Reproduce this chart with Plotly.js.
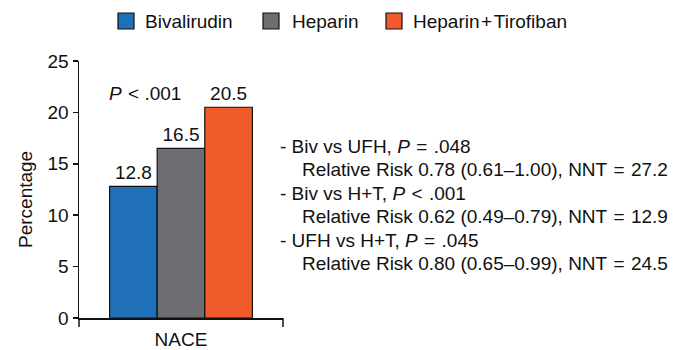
<!DOCTYPE html>
<html>
<head>
<meta charset="utf-8">
<script src="https://cdn.plot.ly/plotly-3.0.1.min.js"></script>
<style>
  html, body { margin: 0; padding: 0; background: #fff; }
  #chart { width: 685px; height: 350px; }
</style>
</head>
<body>
<div id="chart"></div>
<script>
// ---- data ----
const categories = ["NACE"];
const seriesNames = ["Bivalirudin", "Heparin", "Heparin\u200a+\u200aTirofiban"];
const bivalirudin = [12.8];
const heparin = [16.5];
const heparinTirofiban = [20.5];
const yTicks = [0, 5, 10, 15, 20, 25];
const yTitle = "Percentage";
const pValueText = "<i>P</i>\u2004< .001";
const statLines = [
  "- Biv vs UFH, <i>P</i>\u2004=\u2004.048",
  "Relative Risk 0.78 (0.61\u20131.00), NNT\u2004=\u200427.2",
  "- Biv vs H+T, <i>P</i>\u2004<\u2004.001",
  "Relative Risk 0.62 (0.49\u20130.79), NNT\u2004=\u200412.9",
  "- UFH vs H+T, <i>P</i>\u2004=\u2004.045",
  "Relative Risk 0.80 (0.65\u20130.99), NNT\u2004=\u200424.5"
];

// ---- styling ----
const colors = ["#1f70b9", "#6d6e71", "#f15a2b"];
const FONT = "Liberation Sans, Arial, Helvetica, sans-serif";
const TXT = "#111";
const W = 685, H = 350;
const L = 79, R = 283, T = 61, B = 318;
const px = x => (x - L) / (R - L);
const py = y => (B - y) / (B - T);

const values = [bivalirudin, heparin, heparinTirofiban];
const traces = values.map((v, i) => ({
  type: "bar",
  name: seriesNames[i],
  x: categories,
  y: v,
  marker: { color: colors[i], line: { color: "#111", width: 1.2 } },
  text: v.map(d => d.toFixed(1)),
  textposition: "outside",
  textfont: { family: FONT, size: 19, color: TXT },
  cliponaxis: false,
  showlegend: false,
  hoverinfo: "skip"
}));

// custom legend
const legendSq = [118, 263, 386];
const legendTxt = [143, 290, 411];
const shapes = [];
const annotations = [];
seriesNames.forEach((n, i) => {
  shapes.push({
    type: "rect", xref: "paper", yref: "paper",
    x0: px(legendSq[i]), x1: px(legendSq[i] + 16),
    y0: py(13), y1: py(29),
    fillcolor: colors[i], line: { color: "#111", width: 1.2 }
  });
  annotations.push({
    xref: "paper", yref: "paper", x: px(legendTxt[i]), y: py(21),
    xanchor: "left", yanchor: "middle", showarrow: false,
    text: n, font: { family: FONT, size: 19, color: TXT }
  });
});

// end ticks on x axis
[L, R].forEach(xp => shapes.push({
  type: "line", xref: "paper", yref: "paper",
  x0: px(xp), x1: px(xp), y0: py(318), y1: py(327),
  line: { color: "#111", width: 1.5 }
}));

annotations.push({
  xref: "paper", yref: "paper", x: px(145), y: py(93),
  xanchor: "center", yanchor: "middle", showarrow: false,
  text: pValueText, font: { family: FONT, size: 19, color: TXT }
});

// y axis title
annotations.push({
  xref: "paper", yref: "paper", x: px(25), y: py(200),
  xanchor: "center", yanchor: "middle", showarrow: false, textangle: -90,
  text: yTitle, font: { family: FONT, size: 19, color: TXT }
});

const lineY = [146.5, 169.5, 193, 216.5, 240, 263.5];
statLines.forEach((t, i) => annotations.push({
  xref: "paper", yref: "paper",
  x: px(i % 2 === 0 ? 278 : 300), y: py(lineY[i]),
  xanchor: "left", yanchor: "middle", showarrow: false,
  text: t, font: { family: FONT, size: 19, color: TXT }
}));

const layout = {
  width: W, height: H,
  margin: { l: L, r: W - R, t: T, b: H - B },
  paper_bgcolor: "#fff", plot_bgcolor: "#fff",
  barmode: "group",
  bargap: 0.3,
  bargroupgap: 0,
  showlegend: false,
  font: { family: FONT, color: TXT },
  xaxis: {
    type: "category",
    showline: true, linecolor: "#111", linewidth: 1.5,
    ticks: "", showgrid: false, zeroline: false,
    ticklabelstandoff: 4,
    tickfont: { family: FONT, size: 19, color: TXT },
    fixedrange: true
  },
  yaxis: {
    range: [0, 25],
    tickvals: yTicks,
    ticktext: yTicks.map(String),
    showline: true, linecolor: "#111", linewidth: 1.5,
    ticks: "outside", ticklen: 5, tickwidth: 1.5, tickcolor: "#111",
    showgrid: false, zeroline: false,
    tickfont: { family: FONT, size: 19, color: TXT },
    fixedrange: true
  },
  shapes: shapes,
  annotations: annotations
};

Plotly.newPlot("chart", traces, layout, { displayModeBar: false, staticPlot: true });
</script>
</body>
</html>
